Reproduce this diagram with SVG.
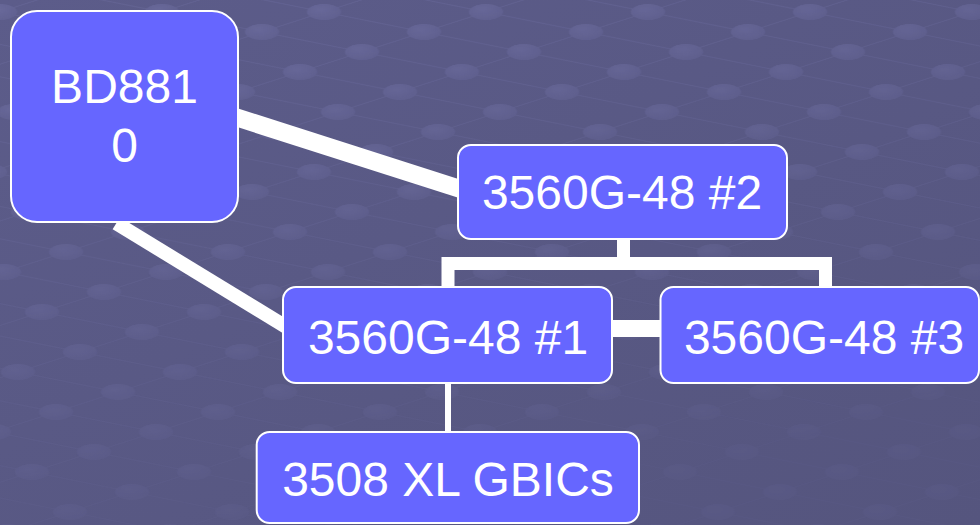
<svg xmlns="http://www.w3.org/2000/svg" width="980" height="525" viewBox="0 0 980 525">
  <defs>
    <linearGradient id="bg" x1="0" y1="0" x2="1" y2="1">
      <stop offset="0" stop-color="#5c5c8a"/>
      <stop offset="1" stop-color="#55557e"/>
    </linearGradient>
    <radialGradient id="dotg" cx="0.4" cy="0.35" r="0.7">
      <stop offset="0" stop-color="#6c6c9e"/>
      <stop offset="1" stop-color="#626292"/>
    </radialGradient>
    <linearGradient id="fade" x1="0" y1="0" x2="0.35" y2="1">
      <stop offset="0" stop-color="#ffffff" stop-opacity="0.85"/>
      <stop offset="0.5" stop-color="#ffffff" stop-opacity="0.5"/>
      <stop offset="1" stop-color="#ffffff" stop-opacity="0.15"/>
    </linearGradient>
    <mask id="fademask" maskUnits="userSpaceOnUse" x="0" y="0" width="980" height="525">
      <rect x="0" y="0" width="980" height="525" fill="url(#fade)"/>
    </mask>
    <pattern id="grid" patternUnits="userSpaceOnUse" width="100" height="100" patternTransform="matrix(1 0.2 -0.62 0.2 748 32)">
      <g stroke="#6a6a9a" stroke-opacity="0.55" fill="none">
        <line x1="0" y1="0" x2="100" y2="0" stroke-width="4"/>
        <line x1="0" y1="100" x2="100" y2="100" stroke-width="4"/>
        <line x1="0" y1="0" x2="0" y2="100" stroke-width="2.4"/>
        <line x1="100" y1="0" x2="100" y2="100" stroke-width="2.4"/>
      </g>
      <g fill="url(#dotg)">
        <g transform="translate(0,0) matrix(0.617 -0.617 1.914 3.086 0 0)"><ellipse rx="17" ry="8"/></g>
        <g transform="translate(100,0) matrix(0.617 -0.617 1.914 3.086 0 0)"><ellipse rx="17" ry="8"/></g>
        <g transform="translate(0,100) matrix(0.617 -0.617 1.914 3.086 0 0)"><ellipse rx="17" ry="8"/></g>
        <g transform="translate(100,100) matrix(0.617 -0.617 1.914 3.086 0 0)"><ellipse rx="17" ry="8"/></g>
      </g>
    </pattern>
  </defs>
  <style>
    .node rect { fill: #6666ff; stroke: #ffffff; stroke-width: 2; }
    .node text { fill: #ffffff; font-family: "Liberation Sans", Arial, sans-serif; font-size: 48px; text-anchor: middle; }
    .conn { stroke: #ffffff; fill: none; stroke-linecap: butt; stroke-linejoin: miter; }
  </style>

  <rect x="0" y="0" width="980" height="525" fill="url(#bg)"/>
  <rect x="0" y="0" width="980" height="525" fill="url(#grid)" mask="url(#fademask)"/>

  <g id="connectors">
    <line class="conn" x1="230" y1="115.3" x2="465" y2="190.5" stroke-width="18"/>
    <line class="conn" x1="116.3" y1="223.3" x2="290" y2="329.2" stroke-width="14"/>
    <path class="conn" d="M448 290 V263.5 H825.5 V290 M623.5 236 V263.5" stroke-width="13"/>
    <line class="conn" x1="605" y1="328.5" x2="667" y2="328.5" stroke-width="17"/>
    <line class="conn" x1="448" y1="380" x2="448" y2="436" stroke-width="6"/>
  </g>

  <g id="node-bd8810" class="node">
    <rect x="11" y="11" width="227" height="211" rx="26" ry="26"/>
    <text x="124.5" y="103">BD881</text>
    <text x="124.5" y="162">0</text>
  </g>

  <g id="node-3560-2" class="node">
    <rect x="458" y="145" width="329" height="94" rx="13" ry="13"/>
    <text x="622" y="209">3560G-48 #2</text>
  </g>

  <g id="node-3560-1" class="node">
    <rect x="283" y="287" width="329" height="96" rx="13" ry="13"/>
    <text x="448" y="354">3560G-48 #1</text>
  </g>

  <g id="node-3560-3" class="node">
    <rect x="660.5" y="287" width="318.5" height="96" rx="13" ry="13"/>
    <text x="824" y="354">3560G-48 #3</text>
  </g>

  <g id="node-3508" class="node">
    <rect x="256.7" y="432" width="382.3" height="91" rx="13" ry="13"/>
    <text x="448" y="496">3508 XL GBICs</text>
  </g>
</svg>
